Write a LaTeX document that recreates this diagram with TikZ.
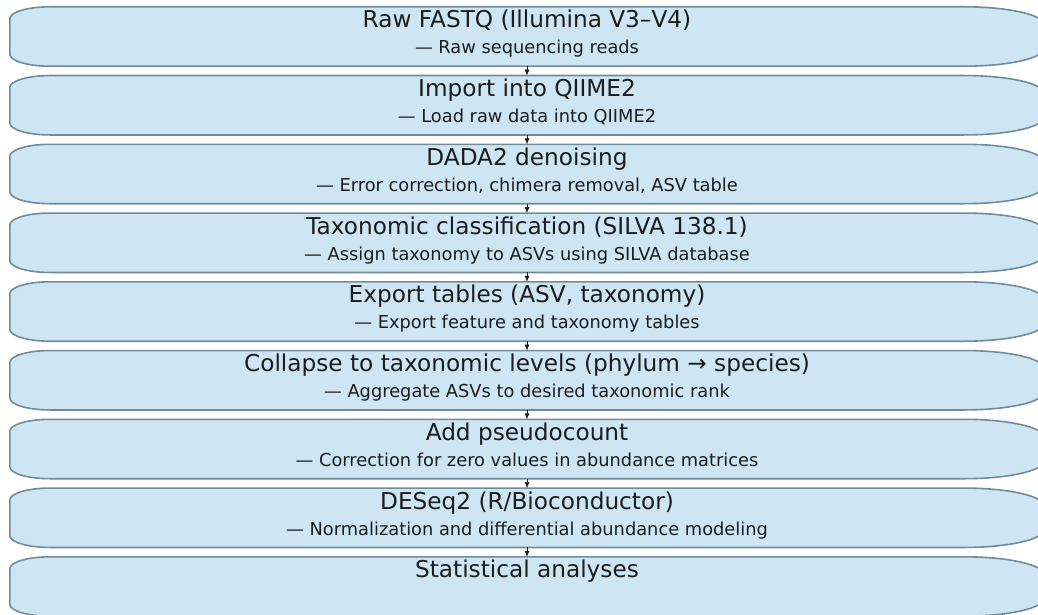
\documentclass[tikz,border=0pt]{standalone}
\usepackage{fontspec}
\setmainfont{DejaVu Sans}
\usetikzlibrary{arrows.meta}

\definecolor{boxfill}{RGB}{206,230,243}
\definecolor{boxedge}{RGB}{112,140,155}
\definecolor{ink}{RGB}{28,28,28}

% rounded outline drawn round an (empty) step node
\newcommand\pillpath[1]{%
  \path[pill] ([xshift=40pt]#1.north west) -- ([xshift=-80pt]#1.north east)
    arc[start angle=90, end angle=0, x radius=80pt, y radius=18pt]
    -- ([yshift=18pt]#1.south east)
    arc[start angle=0, end angle=-90, x radius=80pt, y radius=18pt]
    -- ([xshift=40pt]#1.south west)
    arc[start angle=270, end angle=180, x radius=40pt, y radius=12pt]
    -- ([yshift=-12pt]#1.north west)
    arc[start angle=180, end angle=90, x radius=40pt, y radius=12pt]
    -- cycle;}

\begin{document}
\begin{tikzpicture}[x=1pt, y=1pt,
  stepbox/.style = {shape=rectangle, minimum width=1034pt,
    minimum height=59pt, inner sep=0pt},
  pill/.style = {fill=boxfill, draw=boxedge, line width=1.6pt},
  title/.style = {anchor=base, text=ink, font=\fontsize{23.2}{27}\selectfont},
  sub/.style = {anchor=base, text=ink, font=\fontsize{17.8}{21}\selectfont},
  flow/.style = {-{Latex[length=6pt,width=5pt]}, draw=ink, line width=0.6pt}]
  \useasboundingbox (0,0) rectangle (1038,-615);

  % boxes
  \node[stepbox] (s1) at (527,-36.5) {};
  \node[stepbox] (s2) at (527,-105.25) {};
  \node[stepbox] (s3) at (527,-174) {};
  \node[stepbox] (s4) at (527,-242.75) {};
  \node[stepbox] (s5) at (527,-311.5) {};
  \node[stepbox] (s6) at (527,-380.25) {};
  \node[stepbox] (s7) at (527,-449) {};
  \node[stepbox] (s8) at (527,-517.75) {};
  \node[stepbox] (s9) at (527,-586.5) {};
  \pillpath{s1} \pillpath{s2} \pillpath{s3}
  \pillpath{s4} \pillpath{s5} \pillpath{s6}
  \pillpath{s7} \pillpath{s8} \pillpath{s9}

  % texts
  \node[title] (t1) at ([yshift=-21pt]s1.north) {Raw FASTQ (Illumina V3–V4)};
  \node[sub] (d1) at ([yshift=-47pt]s1.north) {— Raw sequencing reads};
  \node[title] (t2) at ([yshift=-21pt]s2.north) {Import into QIIME2};
  \node[sub] (d2) at ([yshift=-47pt]s2.north) {— Load raw data into QIIME2};
  \node[title] (t3) at ([yshift=-21pt]s3.north) {DADA2 denoising};
  \node[sub] (d3) at ([yshift=-47pt]s3.north) {— Error correction, chimera removal, ASV table};
  \node[title] (t4) at ([yshift=-21pt]s4.north) {Taxonomic classification (SILVA 138.1)};
  \node[sub] (d4) at ([yshift=-47pt]s4.north) {— Assign taxonomy to ASVs using SILVA database};
  \node[title] (t5) at ([yshift=-21pt]s5.north) {Export tables (ASV, taxonomy)};
  \node[sub] (d5) at ([yshift=-47pt]s5.north) {— Export feature and taxonomy tables};
  \node[title] (t6) at ([yshift=-21pt]s6.north) {Collapse to taxonomic levels (phylum → species)};
  \node[sub] (d6) at ([yshift=-47pt]s6.north) {— Aggregate ASVs to desired taxonomic rank};
  \node[title] (t7) at ([yshift=-21pt]s7.north) {Add pseudocount};
  \node[sub] (d7) at ([yshift=-47pt]s7.north) {— Correction for zero values in abundance matrices};
  \node[title] (t8) at ([yshift=-21pt]s8.north) {DESeq2 (R/Bioconductor)};
  \node[sub] (d8) at ([yshift=-47pt]s8.north) {— Normalization and differential abundance modeling};
  \node[title] (t9) at ([yshift=-21pt]s9.north) {Statistical analyses};

  % arrows
  \draw[flow] (s1.south) -- (s2.north);
  \draw[flow] (s2.south) -- (s3.north);
  \draw[flow] (s3.south) -- (s4.north);
  \draw[flow] (s4.south) -- (s5.north);
  \draw[flow] (s5.south) -- (s6.north);
  \draw[flow] (s6.south) -- (s7.north);
  \draw[flow] (s7.south) -- (s8.north);
  \draw[flow] (s8.south) -- (s9.north);
\end{tikzpicture}
\end{document}
